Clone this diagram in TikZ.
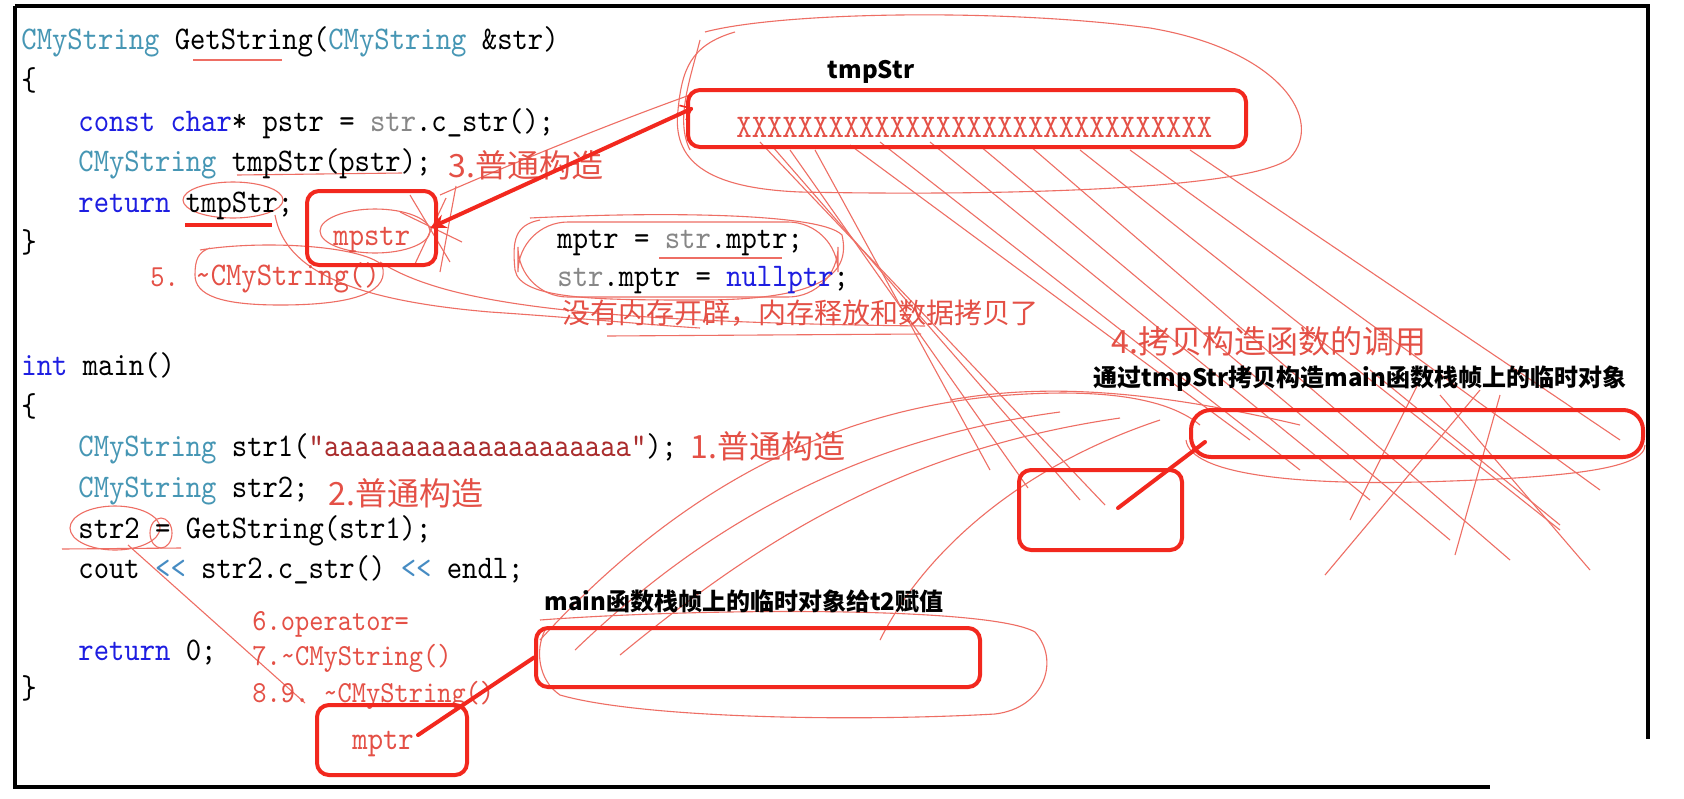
\documentclass[tikz,border=0pt]{standalone}
\usepackage{fontspec}
\usetikzlibrary{arrows.meta,fit}
\newfontfamily\codefont[FakeStretch=0.886]{lmmono10-regular.otf}
\newfontfamily\cjk{Noto Sans CJK SC}
\definecolor{cmtype}{RGB}{70,150,180}
\definecolor{kwblue}{RGB}{30,30,225}
\definecolor{codegrey}{RGB}{135,135,135}
\definecolor{strred}{RGB}{170,45,45}
\definecolor{opblue}{RGB}{70,140,195}
\definecolor{annred}{RGB}{228,80,70}
\definecolor{boxred}{RGB}{242,40,30}
\definecolor{scribc}{RGB}{238,110,100}
\newcommand{\cTy}[1]{\textcolor{cmtype}{#1}}
\newcommand{\cKw}[1]{\textcolor{kwblue}{#1}}
\newcommand{\cGr}[1]{\textcolor{codegrey}{#1}}
\newcommand{\cSt}[1]{\textcolor{strred}{#1}}
\newcommand{\cOp}[1]{\textcolor{opblue}{#1}}
\begin{document}
\begin{tikzpicture}[x=0.5pt,y=-0.5pt,
  code/.style={anchor=base west, inner sep=0pt, text=black, font=\codefont\fontsize{16.5pt}{20pt}\selectfont},
  redcode/.style={anchor=base west, inner sep=0pt, text=annred, font=\codefont\fontsize{15.3pt}{19pt}\selectfont},
  ann/.style={anchor=west, inner sep=0pt, text=annred, font=\cjk\fontsize{16pt}{18pt}\selectfont},
  lbl/.style={inner sep=0pt, text=black, font=\cjk\bfseries\fontsize{12pt}{14pt}\selectfont},
  box/.style={draw=boxred, line width=2pt, rounded corners=6pt, inner sep=0pt},
  conn/.style={draw=boxred, line width=2pt, line cap=round},
  scrib/.style={draw=scribc, line width=0.55pt}]
\useasboundingbox (0,0) rectangle (1684,798);
\fill[white] (0,0) rectangle (1684,798);
% frame
\draw[line width=1.6pt] (15,6) -- (1648,6) -- (1648,739);
\draw[line width=1.6pt] (15,6) -- (15,787) -- (1490,787);

% ---------- scribbles ----------
\draw[scrib] (705,32) .. controls (780,12) and (1000,8) .. (1150,28) .. controls (1280,50) and (1325,120) .. (1290,158) .. controls (1250,190) and (1000,196) .. (800,192) .. controls (705,188) and (672,160) .. (678,110) .. controls (682,70) and (690,45) .. (735,32);
\draw[scrib] (700,40) .. controls (690,80) and (675,120) .. (690,150);
\foreach \a/\b/\c/\d in {760/142/1105/505, 772/146/1080/500, 790/150/1028/488, 815/150/990/470, 850/145/1250/440, 880/142/1300/470, 930/142/1370/500, 980/146/1450/540, 1030/146/1510/560, 1080/150/1560/530, 1130/150/1600/490, 1190/150/1620/440}
  \draw[scrib] (\a,\b) -- (\c,\d);
\draw[scrib] (1480,390) -- (1325,575);
\draw[scrib] (1500,395) -- (1455,555);
\draw[scrib] (1440,395) -- (1590,570);
\draw[scrib] (1370,370) -- (1560,525);
\draw[scrib] (1420,380) -- (1350,520);
\draw[scrib] (540,640) .. controls (650,520) and (800,410) .. (1010,395) .. controls (1110,388) and (1170,400) .. (1200,425);
\draw[scrib] (575,650) .. controls (700,530) and (850,440) .. (1060,412);
\draw[scrib] (620,655) .. controls (760,540) and (900,450) .. (1120,418);
\draw[scrib] (880,640) .. controls (920,560) and (1010,470) .. (1160,420);
\draw[scrib] (950,400) .. controls (1050,382) and (1160,392) .. (1300,425);
\draw[scrib] (1186,440) .. controls (1190,475) and (1300,485) .. (1420,482) .. controls (1560,478) and (1645,470) .. (1645,445);
\draw[scrib] (540,620) .. controls (700,608) and (990,606) .. (1035,632) .. controls (1060,660) and (1045,708) .. (995,714) .. controls (850,722) and (640,718) .. (560,695) .. controls (538,680) and (535,650) .. (545,630);
\draw[scrib, rounded corners=25] (518,222) rectangle (838,297);
\draw[scrib] (530,218) .. controls (650,212) and (820,212) .. (842,235) .. controls (850,270) and (830,300) .. (700,300) .. controls (600,300) and (520,300) .. (515,270) .. controls (512,240) and (515,225) .. (540,220);
\draw[scrib] (380,262) .. controls (440,300) and (560,322) .. (925,326);
\draw[scrib] (607,336) -- (921,334);
\draw[scrib] (659,258) -- (782,258);
\draw[scrib] (275,215) .. controls (285,270) and (350,300) .. (490,312) .. controls (580,318) and (650,325) .. (700,328);
\draw[scrib] (237,175) -- (402,173);
\draw[scrib] (193,60) -- (282,60);
\draw[scrib] (233,200) ellipse [x radius=50, y radius=18];
\draw[boxred, line width=1.8pt] (185,225) -- (272,225);
\draw[scrib] (200,250) .. controls (260,240) and (360,245) .. (382,265) .. controls (390,290) and (360,305) .. (280,305) .. controls (220,305) and (195,295) .. (195,275) .. controls (195,260) and (198,252) .. (210,248);
\draw[scrib] (375,231) ellipse [x radius=55, y radius=22];
\draw[scrib] (410,195) -- (450,262);
\draw[scrib] (446,198) -- (414,266);
\draw[scrib] (400,212) -- (462,242);
\draw[scrib] (456,186) -- (440,272);
\draw[scrib] (440,195) .. controls (520,160) and (620,120) .. (690,95);
\draw[scrib] (115,528) ellipse [x radius=45, y radius=22];
\draw[scrib] (161,533) ellipse [x radius=11, y radius=15];
\draw[scrib] (62,549) -- (181,548);
\draw[scrib] (128,545) -- (305,703);

% ---------- code ----------
\node[code] (c1) at (21,49) {\cTy{CMyString} GetString(\cTy{CMyString} \&str)};
\node[code] (c2) at (21,90) {\{};
\node[code] (c3) at (78,131) {\cKw{const} \cKw{char}* pstr = \cGr{str}.c\_str();};
\node[code] (c4) at (78,171) {\cTy{CMyString} tmpStr(pstr);};
\node[code] (c5) at (78,212) {\cKw{return} tmpStr;};
\node[code] (c6) at (21,252) {\}};
\node[redcode] (n5) at (150,286) {5.};
\node[code, text=annred] (n5b) at (195,285) {\textasciitilde CMyString()};

\node[code] (m1) at (21,375) {\cKw{int} main()};
\node[code] (m2) at (21,416) {\{};
\node[code] (m3) at (78,456) {\cTy{CMyString} str1(\cSt{"aaaaaaaaaaaaaaaaaaaa"});};
\node[code] (m4) at (78,497) {\cTy{CMyString} str2;};
\node[code] (m5) at (78,538) {str2 = GetString(str1);};
\node[code] (m6) at (78,578) {cout \cOp{<<} str2.c\_str() \cOp{<<} endl;};
\node[code] (m7) at (78,660) {\cKw{return} 0;};
\node[code] (m8) at (21,698) {\}};

\node[code] (k1) at (557,248) {mptr = \cGr{str}.mptr;};
\node[code] (k2) at (557,286) {\cGr{str}.mptr = \cKw{nullptr};};

\node[redcode] (o6) at (252,630) {6.operator=};
\node[redcode] (o7) at (252,665) {7.\textasciitilde CMyString()};
\node[redcode] (o8) at (252,702) {8.9.};
\node[redcode] (o8b) at (323,702) {\textasciitilde CMyString()};

% ---------- annotations ----------
\node[ann] (a3) at (448,165) {3.普通构造};
\node[ann] (a1) at (690,446) {1.普通构造};
\node[ann] (a2) at (328,493) {2.普通构造};
\node[ann] (a4) at (1111,341) {4.拷贝构造函数的调用};
\node[ann, font=\cjk\fontsize{14pt}{16pt}\selectfont] (an) at (562,313) {没有内存开辟，内存释放和数据拷贝了};

\node[lbl] (ltmp) at (871,72) {tmpStr};
\node[lbl] (lcopy) at (1360,379) {通过tmpStr拷贝构造main函数栈帧上的临时对象};
\node[lbl] (lmain) at (744,601) {main函数栈帧上的临时对象给t2赋值};

% ---------- boxes ----------
\node[box, fit={(688,90) (1246,147)}] (tmpbox) {};
\node[code, text=annred] (xs) at (736,137) {XXXXXXXXXXXXXXXXXXXXXXXXXXXXXXX};
\node[box, fit={(307,191) (436,265)}] (mpbox) {};
\node[code, text=annred] (mpstrtxt) at (333,245) {mpstr};
\node[box, fit={(1019,470) (1182,550)}] (copybox) {};
\node[box, rounded corners=10pt, fit={(1191,410) (1643,457)}] (bigbox) {};
\node[box, fit={(536,628) (980,687)}] (mainbox) {};
\node[box, fit={(317,705) (467,775)}] (mptrbox) {};
\node[code, text=annred] (mptrtxt) at (352,749) {mptr};

% ---------- connectors ----------
\coordinate (arrA) at (430,228);
\coordinate (arrB) at (693,108);
\draw[conn, {Stealth[length=8pt,width=7pt]}-{Straight Barb[length=5pt,width=8pt,line width=0.8pt]}] (arrA) -- (arrB);
\coordinate (cpA) at (1118,508);
\coordinate (cpB) at (1205,442);
\draw[conn] (cpA) -- (cpB);
\coordinate (mpA) at (418,735);
\draw[conn] (mpA) -- (mainbox.west);
\end{tikzpicture}
\end{document}
